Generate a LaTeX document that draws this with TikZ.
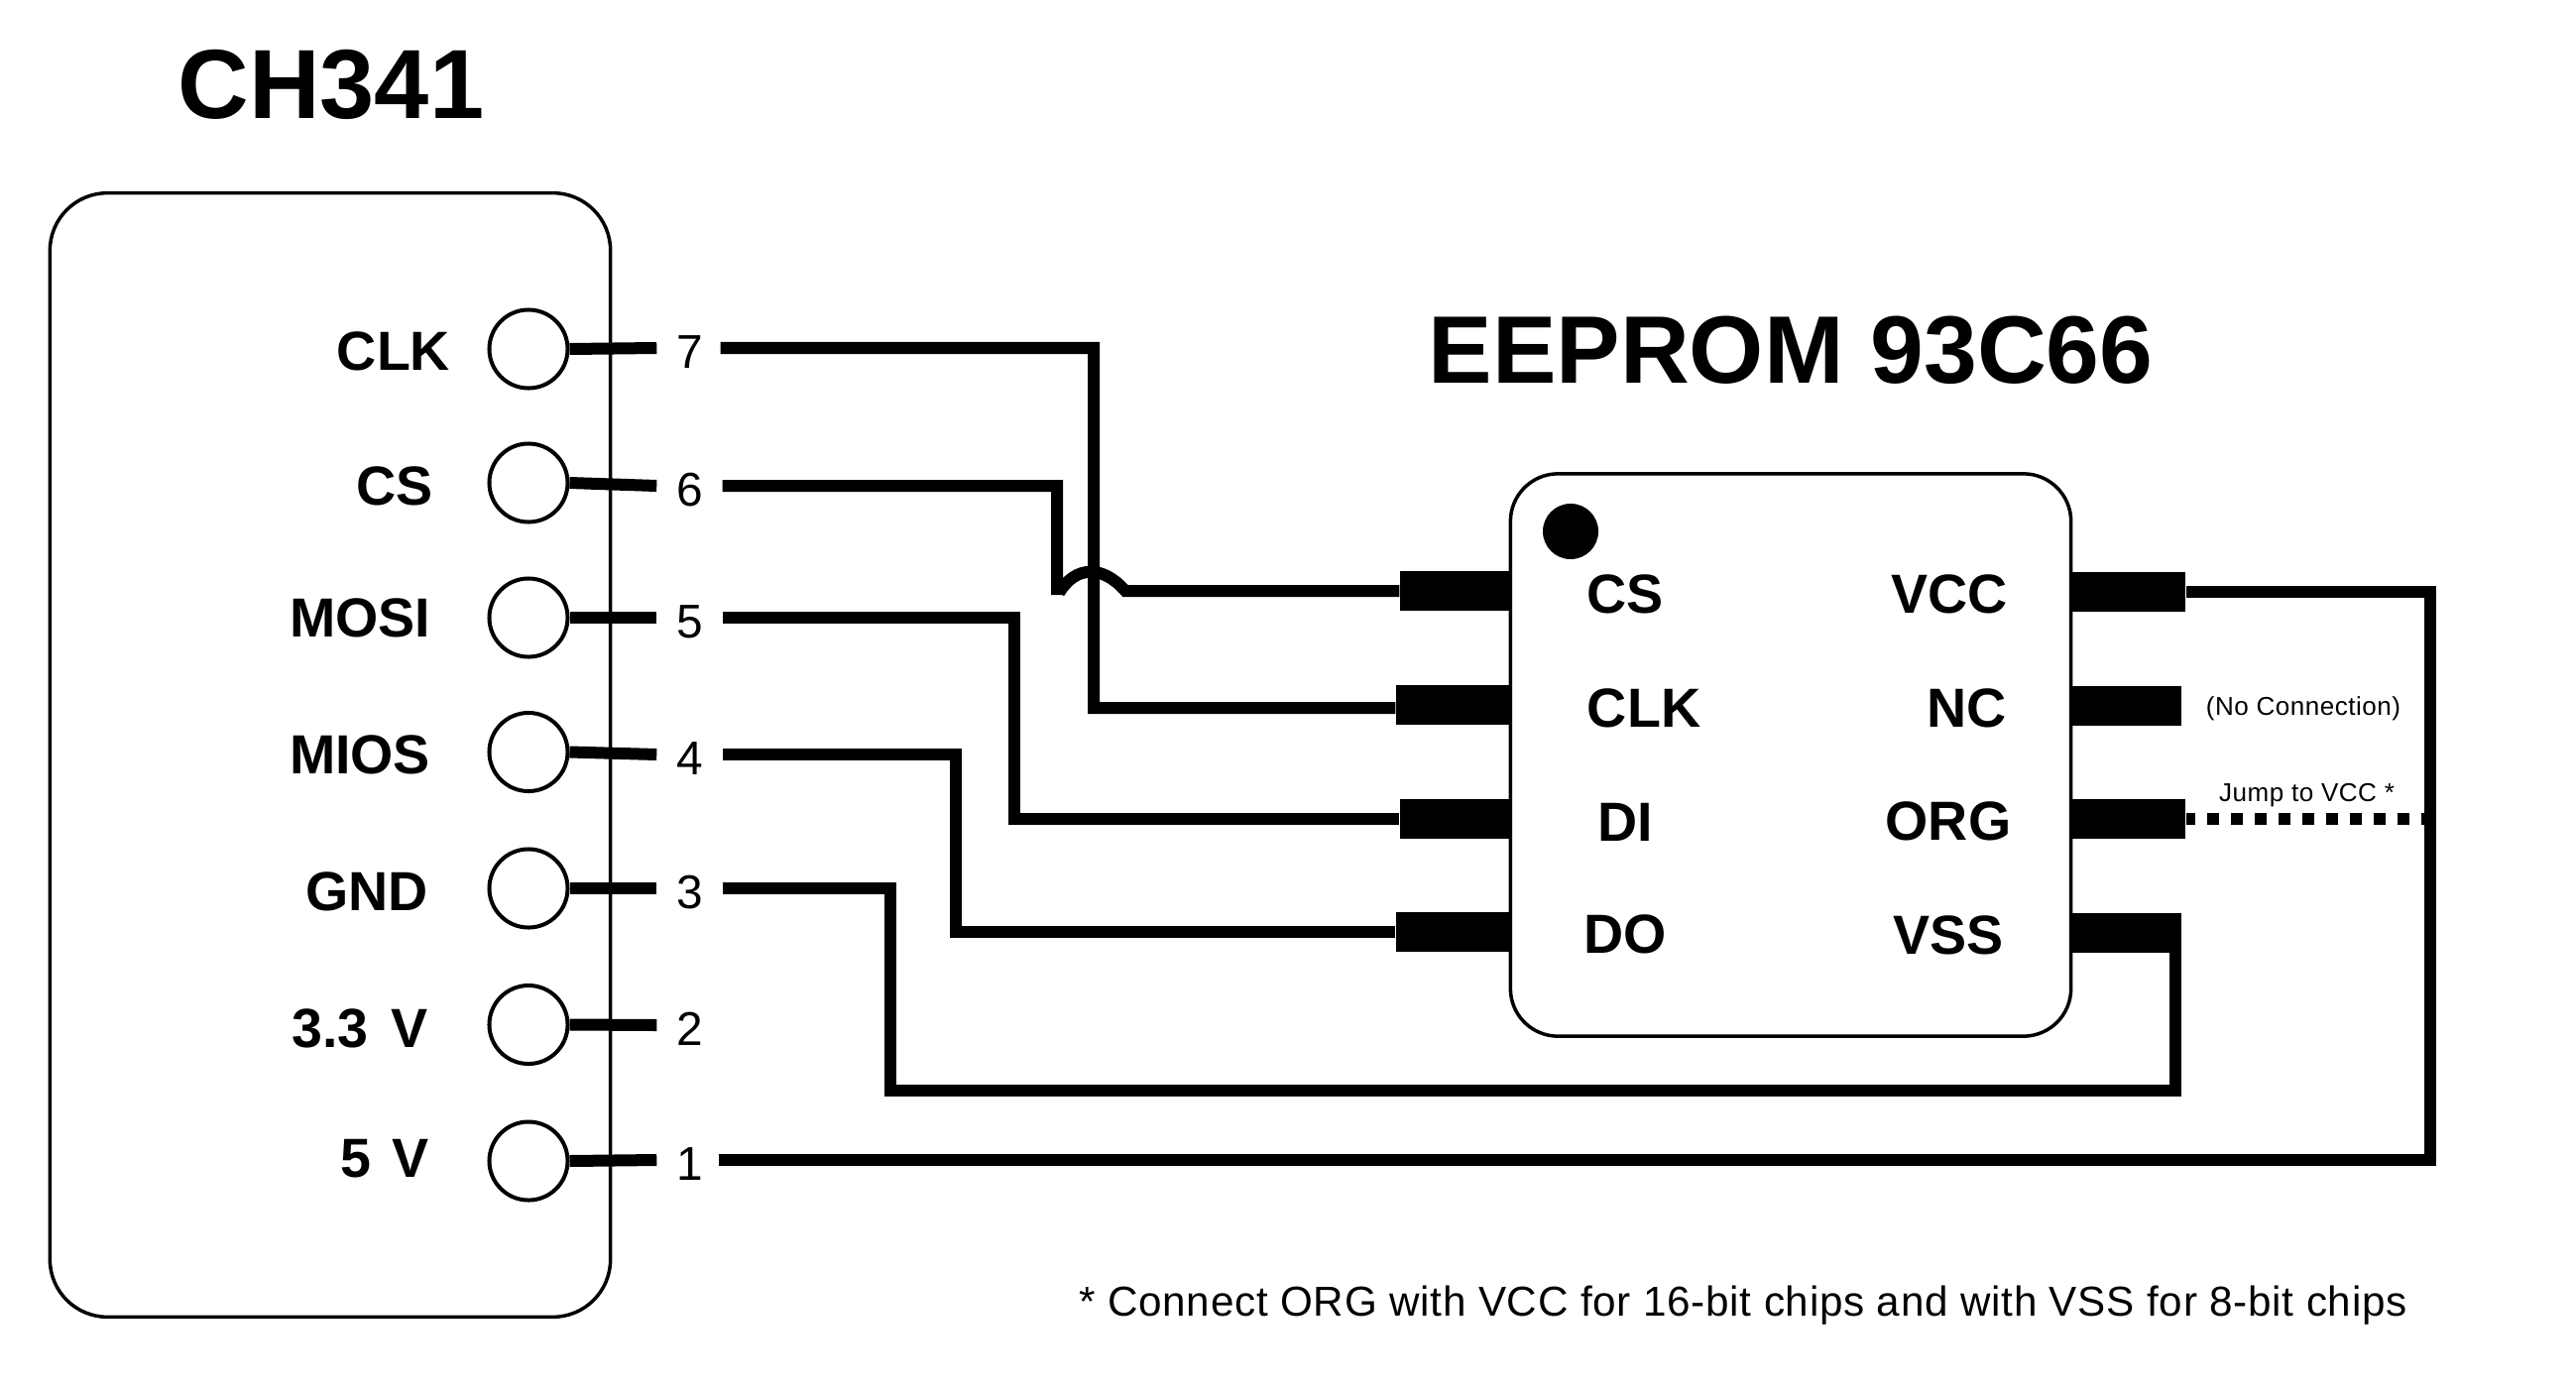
\documentclass[tikz,border=0pt]{standalone}
\usepackage{fontspec}
\setmainfont{Liberation Sans}
\tikzset{
    wire/.style={line width=0.12cm},
    bodybox/.style={draw, line width=0.035cm, inner sep=0pt},
    hole/.style={draw, circle, line width=0.04cm, minimum size=0.79cm, inner sep=0pt},
    numlabel/.style={font=\fontsize{13.6}{16}\selectfont, inner sep=0pt, minimum width=0.65cm, text height=11.5pt, text depth=0pt},
    pinlabel/.style={font=\fontsize{15.8}{18}\bfseries\selectfont, inner sep=0pt},
    bigtitle/.style={font=\fontsize{28.2}{32}\bfseries\selectfont, inner sep=0pt},
    smallnote/.style={font=\fontsize{7.4}{9}\selectfont\addfontfeatures{LetterSpace=2}, inner sep=0pt},
    chippin/.style={fill=black, inner sep=0pt, minimum height=0.4cm},
}
\begin{document}
\begin{tikzpicture}[x=0.01cm, y=-0.01cm]
    \useasboundingbox (0,0) rectangle (2598,1400);
    \node[bigtitle] (titlech) at (334,85) {CH341};
    \node[bigtitle, font=\fontsize{27.5}{32}\bfseries\selectfont] (titleee) at (1806,353) {EEPROM 93C66};
    \node[bodybox, rounded corners=0.58cm, minimum width=5.65cm, minimum height=11.33cm] (board) at (333,761.5) {};
    \node[bodybox, rounded corners=0.48cm, minimum width=5.65cm, minimum height=5.67cm] (chip) at (1806,761.5) {};
    \node[fill=black, circle, minimum size=0.56cm, inner sep=0pt] (dot) at (1584,536) {};
    % CH341 side
    \foreach \n/\lab/\lx/\ly/\cy/\wy in {7/CLK/397/354/352/351, 6/CS/398/490/487/490, 5/MOSI/363/623/623/623, 4/MIOS/363/761/758.5/761, 3/GND/370/899/896/896, 2/3.3\kern2pt{} V/363/1037/1033.5/1034, 1/5\kern1.5pt{} V/388/1169/1171/1170} {
        \node[pinlabel] (lab\n) at (\lx,\ly) {\lab};
        \node[hole] (hole\n) at (533,\cy) {};
        \node[numlabel] (num\n) at (695.5,\wy) {\n};
        \draw[wire] (hole\n.east) -- (num\n.west);
    }
    % chip pins
    \foreach \name/\lab/\lx/\x/\y/\w in {cs/CS/1639/1468/596/1.12, clk/CLK/1658/1465/711/1.14, di/DI/1639/1468/826/1.12, do/DO/1639/1465/939.5/1.14} {
        \node[chippin, minimum width=\w cm] (pin\name) at (\x,\y) {};
        \node[pinlabel] (lab\name) at (\lx,\y+3) {\lab};
    }
    \foreach \name/\lab/\lx/\x/\y/\w in {vcc/VCC/1966/2146.5/597/1.15, nc/NC/1983.5/2144.5/712/1.11, org/ORG/1965/2146.5/826/1.15, vss/VSS/1965/2144.5/941/1.11} {
        \node[chippin, minimum width=\w cm] (pin\name) at (\x,\y) {};
        \node[pinlabel] (lab\name) at (\lx,\y+2) {\lab};
    }
    \node[smallnote] (noteNC) at (2323,715) {(No Connection)};
    \node[smallnote] (noteORG) at (2326.5,802) {Jump to VCC *};
    \node[font=\fontsize{12}{14}\selectfont\addfontfeatures{LetterSpace=1.75}, inner sep=0pt] (foot) at (1758,1317) {* Connect ORG with VCC for 16-bit chips and with VSS for 8-bit chips};
    % wires
    \draw[wire] ([xshift=-0.02cm]num7.east) -| (1103,714) -- ([yshift=-0.03cm]pinclk.west);
    \draw[wire] (num6.east) -| (1066,600) (1068,598) .. controls (1085,570) and (1112,570) .. (1135,596) -- (pincs.west);
    \draw[wire] (num5.east) -| (1023,826) -- (pindi.west);
    \draw[wire] (num4.east) -| (963.5,939.5) -- (pindo.west);
    \draw[wire] (num3.east) -| (898,1099.5) -| ([xshift=-0.065cm]pinvss.east);
    \draw[wire] ([xshift=-0.04cm]num1.east) -| (2451,597) -- (pinvcc.east);
    \draw[wire, dash pattern=on 0.116cm off 0.124cm, dash phase=0.026cm] (pinorg.east) -- (2447,826); % jumper
\end{tikzpicture}
\end{document}
